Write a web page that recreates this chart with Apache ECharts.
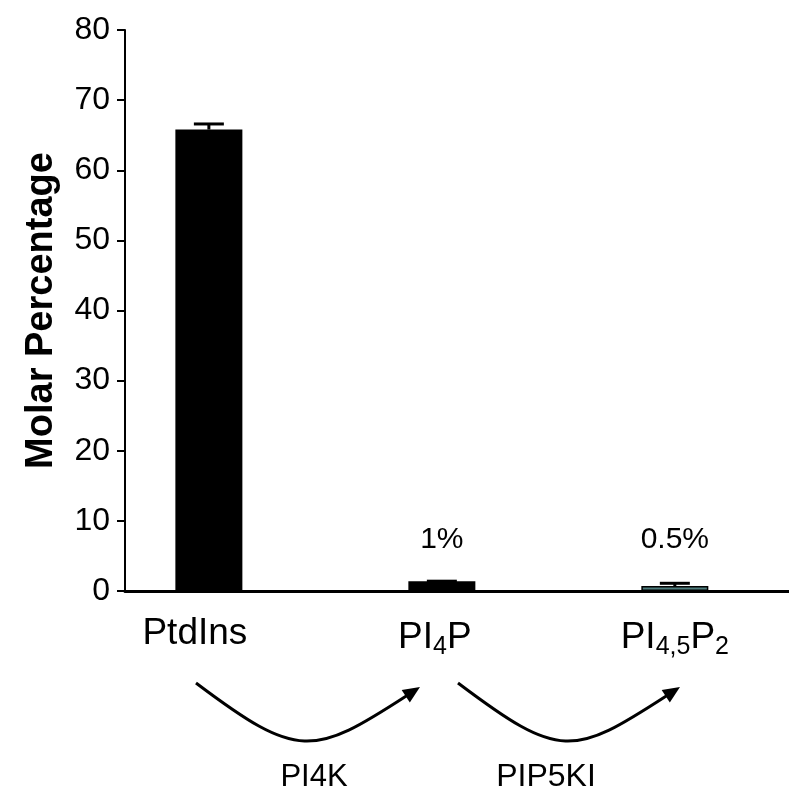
<!DOCTYPE html>
<html>
<head>
<meta charset="utf-8">
<script src="https://cdn.jsdelivr.net/npm/echarts@6/dist/echarts.min.js"></script>
<style>
  html, body { margin: 0; padding: 0; background: #fff; }
  #chart { width: 789px; height: 798px; }
</style>
</head>
<body>
<div id="chart"></div>
<script>
// lipid species, molar %
const categories = ['PtdIns', 'PI{s|4}P', 'PI{s|4,5}P{s|2}'];
const positions = [0, 1, 2];
const values = [65.8, 1.4, 0.7];
const errorTop = [66.6, 1.4, 1.1];
const barLabels = ['', '1%', '0.5%'];
const barColors = ['#000', '#000', '#4f7d7d'];
const yTicks = [0, 10, 20, 30, 40, 50, 60, 70, 80];
const enzymes = ['PI4K', 'PIP5KI'];

const font = '"Liberation Sans", Arial, sans-serif';
const labelShift = [28, 14, 0]; // right padding, nudges the first labels left
const chart = echarts.init(document.getElementById('chart'));

// curved arrow (cubic) with a filled head at the end
function arrow(x0, y0, x3, y3) {
  const L = 128;
  const a0 = 37 * Math.PI / 180;
  const a1 = 33 * Math.PI / 180;
  const c1 = [x0 + L * Math.cos(a0), y0 + L * Math.sin(a0)];
  const c2 = [x3 - L * Math.cos(a1), y3 + L * Math.sin(a1)];
  const d = [Math.cos(a1), -Math.sin(a1)];
  const n = [-d[1], d[0]];
  const hl = 17, hw = 7.5;
  const b = [x3 - hl * d[0], y3 - hl * d[1]];
  return [
    {
      type: 'bezierCurve',
      shape: { x1: x0, y1: y0, cpx1: c1[0], cpy1: c1[1], cpx2: c2[0], cpy2: c2[1], x2: b[0] + 2 * d[0], y2: b[1] + 2 * d[1] },
      style: { stroke: '#000', lineWidth: 3, fill: null },
    },
    {
      type: 'polygon',
      shape: { points: [[x3, y3], [b[0] + hw * n[0], b[1] + hw * n[1]], [b[0] - hw * n[0], b[1] - hw * n[1]]] },
      style: { fill: '#000' },
    },
  ];
}

const rich = { s: { fontSize: 25, fontFamily: font, color: '#000', padding: [20, 0, 0, 0] } };
labelShift.forEach((p, i) => {
  rich['pad' + i] = { fontSize: 37, padding: [0, p, 0, 0] };
});

const option = {
  animation: false,
  grid: { left: 125, right: 0, top: 30, bottom: 207 },
  xAxis: {
    type: 'value',
    min: -0.36,
    max: 2.49,
    splitLine: { show: false },
    axisTick: { show: false },
    axisLine: { onZero: false, lineStyle: { color: '#000', width: 3 } },
    axisLabel: {
      customValues: positions,
      margin: 24,
      color: '#000',
      fontFamily: font,
      fontSize: 37,
      formatter: (v) => {
        const i = Math.round(v);
        return categories[i] + '{pad' + i + '|}';
      },
      rich: rich,
    },
  },
  yAxis: {
    type: 'value',
    min: 0,
    max: 80,
    interval: 10,
    name: 'Molar Percentage',
    nameLocation: 'middle',
    nameGap: 64,
    nameTextStyle: { fontFamily: font, fontSize: 38, fontWeight: 'bold', color: '#000' },
    splitLine: { show: false },
    axisLine: { show: true, onZero: false, lineStyle: { color: '#000', width: 2 } },
    axisTick: { show: true, length: 8, lineStyle: { color: '#000', width: 2 } },
    axisLabel: { margin: 15, color: '#000', fontFamily: font, fontSize: 32, customValues: yTicks },
  },
  series: [
    {
      type: 'bar',
      barWidth: 67,
      data: positions.map((p, i) => ({
        value: [p, values[i]],
        itemStyle: { color: barColors[i], borderColor: '#000', borderWidth: i === 2 ? 1.5 : 0 },
        label: {
          show: barLabels[i] !== '',
          position: 'top',
          distance: i === 1 ? 26 : 31,
          formatter: barLabels[i],
          color: '#000',
          fontFamily: font,
          fontSize: 30,
        },
      })),
      z: 2,
    },
    {
      type: 'custom',
      z: 3,
      data: positions.map((p, i) => [p, values[i], errorTop[i]]),
      renderItem: (params, api) => {
        const base = api.coord([api.value(0), api.value(1)]);
        const top = api.coord([api.value(0), api.value(2)]);
        const hw = 15;
        const st = { stroke: '#000', lineWidth: 3 };
        return {
          type: 'group',
          children: [
            { type: 'line', shape: { x1: base[0], y1: base[1], x2: top[0], y2: top[1] }, style: st },
            { type: 'line', shape: { x1: top[0] - hw, y1: top[1], x2: top[0] + hw, y2: top[1] }, style: st },
          ],
        };
      },
    },
  ],
  graphic: [
    ...arrow(196, 683, 420, 687),
    ...arrow(458, 683, 680, 687),
    {
      type: 'text', x: 314, y: 777,
      style: { text: enzymes[0], font: '31px ' + font, fill: '#000', align: 'center', verticalAlign: 'middle' },
    },
    {
      type: 'text', x: 546, y: 777,
      style: { text: enzymes[1], font: '32px ' + font, fill: '#000', align: 'center', verticalAlign: 'middle' },
    },
  ],
};

chart.setOption(option);
</script>
</body>
</html>
